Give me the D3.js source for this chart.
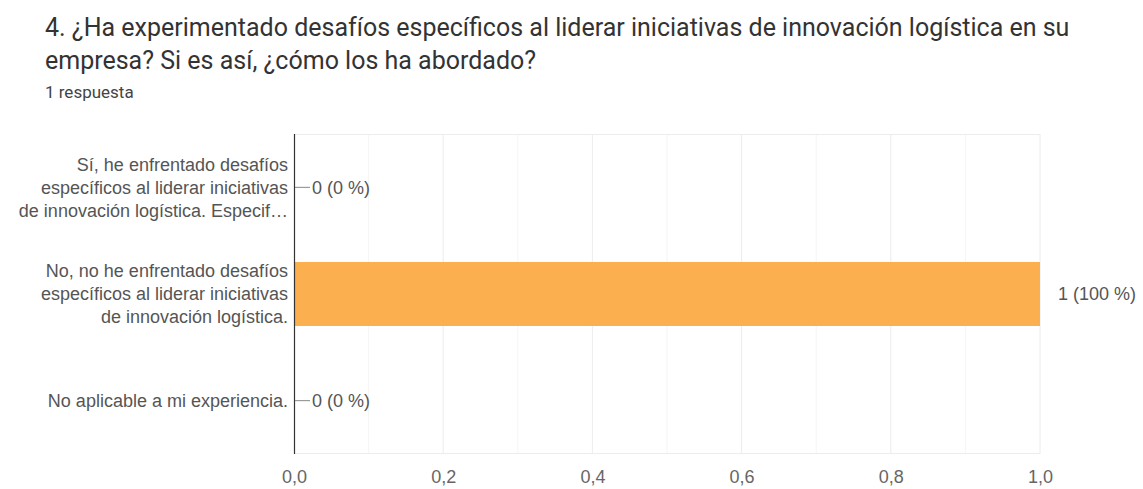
<!DOCTYPE html>
<html><head><meta charset="utf-8">
<script src="https://cdn.jsdelivr.net/npm/d3@7"></script>
<style>body{margin:0;background:#fff;}svg{display:block;font-family:"Liberation Sans",Arial,sans-serif;}</style>
</head><body>
<svg id="c" width="1143" height="489"></svg>
<script>
const titleLines = ["4. ¿Ha experimentado desafíos específicos al liderar iniciativas de innovación logística en su", "empresa? Si es así, ¿cómo los ha abordado?"];
const subtitle = "1 respuesta";
const categories = [
  ["Sí, he enfrentado desafíos", "específicos al liderar iniciativas", "de innovación logística. Especif…"],
  ["No, no he enfrentado desafíos", "específicos al liderar iniciativas", "de innovación logística."],
  ["No aplicable a mi experiencia."]
];
const values = [0, 1, 0];
const valueLabels = ["0 (0 %)", "1 (100 %)", "0 (0 %)"];
const xTicks = [0, 0.2, 0.4, 0.6, 0.8, 1.0];
const gridTicks = [0.1, 0.2, 0.3, 0.4, 0.5, 0.6, 0.7, 0.8, 0.9, 1.0];

const svg = d3.select("#c");
const L = 294, R = 1040, T = 134, B = 454;
const x = d3.scaleLinear().domain([0, 1]).range([L, R]);
const y = d3.scaleBand().domain(d3.range(categories.length)).range([T, B]).paddingInner(0.4).paddingOuter(0.2);

// title
svg.append("g").selectAll("text").data(titleLines).join("text")
  .attr("x", 45).attr("y", (d, i) => 36 + i * 33)
  .attr("font-family", "Roboto,Arial,sans-serif")
  .attr("font-size", 25).attr("fill", "#333").text(d => d);
svg.append("text").attr("x", 45).attr("y", 98).attr("font-family", "Roboto,Arial,sans-serif")
  .attr("font-size", 17).attr("fill", "#444").text(subtitle);

// grid
svg.append("g").selectAll("line").data(gridTicks).join("line")
  .attr("x1", d => x(d)).attr("x2", d => x(d)).attr("y1", T).attr("y2", B)
  .attr("stroke", d => (Math.round(d * 10) % 2 === 0) ? "#ececec" : "#f5f5f5").attr("stroke-width", 1);
svg.append("line").attr("x1", L).attr("x2", R).attr("y1", T + 0.5).attr("y2", T + 0.5).attr("stroke", "#ececec");
svg.append("line").attr("x1", L).attr("x2", R).attr("y1", B - 0.5).attr("y2", B - 0.5).attr("stroke", "#ececec");

// bars
svg.append("g").selectAll("rect").data(values).join("rect")
  .attr("x", x(0)).attr("y", (d, i) => y(i)).attr("width", d => x(d) - x(0)).attr("height", y.bandwidth())
  .attr("fill", "#fbaf4f");

// axis line
svg.append("line").attr("x1", L + 0.5).attr("x2", L + 0.5).attr("y1", T).attr("y2", B).attr("stroke", "#333").attr("stroke-width", 1.2);

// x axis tick labels
const xAxis = d3.axisBottom(x).tickValues(xTicks).tickSize(0).tickFormat(d => d3.format(".1f")(d).replace(".", ","));
const gx = svg.append("g").attr("transform", `translate(0,${B})`).call(xAxis);
gx.select(".domain").remove();
gx.selectAll("text").attr("font-size", 18).attr("fill", "#666").attr("y", 0).attr("dy", 29)
  .attr("font-family", "'Liberation Sans',Arial,sans-serif");

// category labels
const cat = svg.append("g");
categories.forEach((lines, i) => {
  const cy = y(i) + y.bandwidth() / 2;
  const lh = 23;
  lines.forEach((ln, j) => {
    cat.append("text").attr("x", L - 6).attr("y", cy + (j - (lines.length - 1) / 2) * lh)
      .attr("dy", "0.35em").attr("text-anchor", "end").attr("font-size", 18).attr("fill", "#555").text(ln);
  });
});

// value labels
const vl = svg.append("g");
values.forEach((v, i) => {
  const cy = y(i) + y.bandwidth() / 2;
  if (v === 0) {
    vl.append("line").attr("x1", x(0) + 1).attr("x2", x(0) + 16).attr("y1", cy).attr("y2", cy).attr("stroke", "#888");
    vl.append("text").attr("x", x(0) + 18).attr("y", cy).attr("dy", "0.35em").attr("font-size", 18).attr("fill", "#555").text(valueLabels[i]);
  } else {
    vl.append("text").attr("x", x(v) + 18).attr("y", cy).attr("dy", "0.35em").attr("font-size", 18).attr("fill", "#555").text(valueLabels[i]);
  }
});
</script>
</body></html>
